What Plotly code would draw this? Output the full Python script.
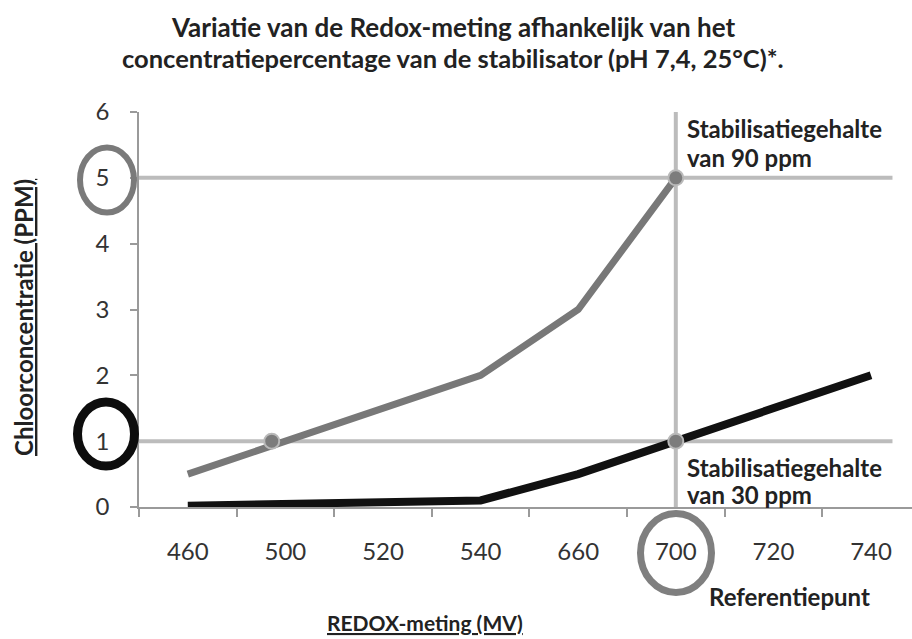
import plotly.graph_objects as go

# Redox readings (mV) on the horizontal axis, evenly spaced as categories
redox_mv = ["460", "500", "520", "540", "660", "700", "720", "740"]

# Free chlorine (ppm) against redox reading for two stabiliser levels
chloor_90ppm = [0.5, 1.0, 1.5, 2.0, 3.0, 5.0]
chloor_30ppm = [0.02, 0.05, 0.07, 0.1, 0.5, 1.0, 1.5, 2.0]

y_ticks = [0, 1, 2, 3, 4, 5, 6]

# Reference levels
ref_redox = "700"
ref_high = 5.0
ref_low = 1.0
ref_low_left = 0.86  # extra marker where the 90 ppm curve crosses 1 ppm

idx = {c: i for i, c in enumerate(redox_mv)}
x_all = [idx[c] for c in redox_mv]

GRAY_LINE = "#787878"
BLACK_LINE = "#111111"
REF_LINE = "#bcbcbc"
AXIS = "#9a9a9a"
TEXT = "#222222"
FONT = "Lato"

W, H = 912, 639
ML, MR, MT, MB = 139, 0, 112, 132
PW, PH = W - ML - MR, H - MT - MB


def px(x):
    return (x - ML) / PW


def py(y):
    return (H - MB - y) / PH


fig = go.Figure()

fig.add_trace(go.Scatter(
    x=x_all[:len(chloor_90ppm)], y=chloor_90ppm, mode="lines",
    line=dict(color=GRAY_LINE, width=7), hoverinfo="skip", showlegend=False,
))
fig.add_trace(go.Scatter(
    x=x_all, y=chloor_30ppm, mode="lines",
    line=dict(color=BLACK_LINE, width=8), hoverinfo="skip", showlegend=False,
))

# Intersection markers
xr = idx[ref_redox]
fig.add_trace(go.Scatter(
    x=[ref_low_left, xr, xr], y=[ref_low, ref_high, ref_low], mode="markers",
    marker=dict(size=15, color="#7c7c7c", line=dict(color="#b9b9b9", width=2)),
    hoverinfo="skip", showlegend=False,
))

shapes = []
# Horizontal reference lines at 1 and 5 ppm
for lvl in (ref_high, ref_low):
    shapes.append(dict(type="line", xref="x", yref="y", x0=-0.5, x1=7.22,
                       y0=lvl, y1=lvl, line=dict(color=REF_LINE, width=4),
                       layer="below"))
# Vertical reference line at the reference redox reading
shapes.append(dict(type="line", xref="x", yref="y", x0=xr, x1=xr,
                   y0=0, y1=6.04, line=dict(color=REF_LINE, width=4),
                   layer="below"))


def ring(cx, cy, w, h, color, width):
    # ellipse outline centred on (cx, cy) in page pixels, outer size w x h
    w -= width
    h -= width
    return dict(type="circle", xref="paper", yref="paper",
                x0=px(cx - w / 2), x1=px(cx + w / 2),
                y0=py(cy + h / 2), y1=py(cy - h / 2),
                line=dict(color=color, width=width))


# Rings around the highlighted tick labels
shapes.append(ring(107, 180, 60, 71, "#7a7a7a", 6))
shapes.append(ring(106, 434, 66, 73, "#0d0d0d", 9))
shapes.append(ring(676, 553, 78, 86, "#7f7f7f", 7))


def label(text, x, y, size, anchor="left", angle=0):
    return dict(text=text, x=px(x), y=py(y), xanchor=anchor, yanchor="middle",
                textangle=angle, xref="paper", yref="paper", showarrow=False,
                font=dict(family=FONT, size=size, color=TEXT))


annotations = [
    label("<b>Variatie van de Redox-meting afhankelijk van het</b>", 453, 27, 26, "center"),
    label("<b>concentratiepercentage van de stabilisator (pH 7,4, 25°C)*.</b>", 453, 58, 25.5, "center"),
    label("<b>Stabilisatiegehalte</b>", 685, 128, 24),
    label("<b>van 90 ppm</b>", 685, 157, 24),
    label("<b>Stabilisatiegehalte</b>", 685, 467, 24),
    label("<b>van 30 ppm</b>", 685, 494, 24),
    label("<b>Referentiepunt</b>", 707, 596, 24),
    label("<b><u>REDOX-meting (MV)</u></b>", 425, 622, 21, "center"),
    label("<b><u>Chloorconcentratie (PPM)</u></b>", 23, 318, 24, "center", -90),
]

fig.update_layout(
    width=W, height=H,
    margin=dict(l=ML, r=MR, t=MT, b=MB, pad=0),
    paper_bgcolor="white", plot_bgcolor="white",
    shapes=shapes, annotations=annotations,
    xaxis=dict(
        range=[-0.5, 7.42], showgrid=False, zeroline=False,
        showline=True, linecolor=AXIS, linewidth=1.5,
        tickmode="array", tickvals=x_all, ticktext=redox_mv, ticks="",
        ticklabelstandoff=22,
        tickfont=dict(family=FONT, size=24, color="#333333"),
        minor=dict(tickmode="linear", tick0=0.5, dtick=1, ticks="outside",
                   ticklen=8, tickwidth=1.5, tickcolor=AXIS, showgrid=False),
    ),
    yaxis=dict(
        range=[0, 6], showgrid=False, zeroline=False,
        showline=True, linecolor=AXIS, linewidth=1.5,
        tickmode="array", tickvals=y_ticks, ticks="outside",
        ticklen=7, tickwidth=1.5, tickcolor=AXIS,
        ticklabelstandoff=16,
        tickfont=dict(family=FONT, size=24, color="#333333"),
    ),
)

fig.write_html("out.html")
